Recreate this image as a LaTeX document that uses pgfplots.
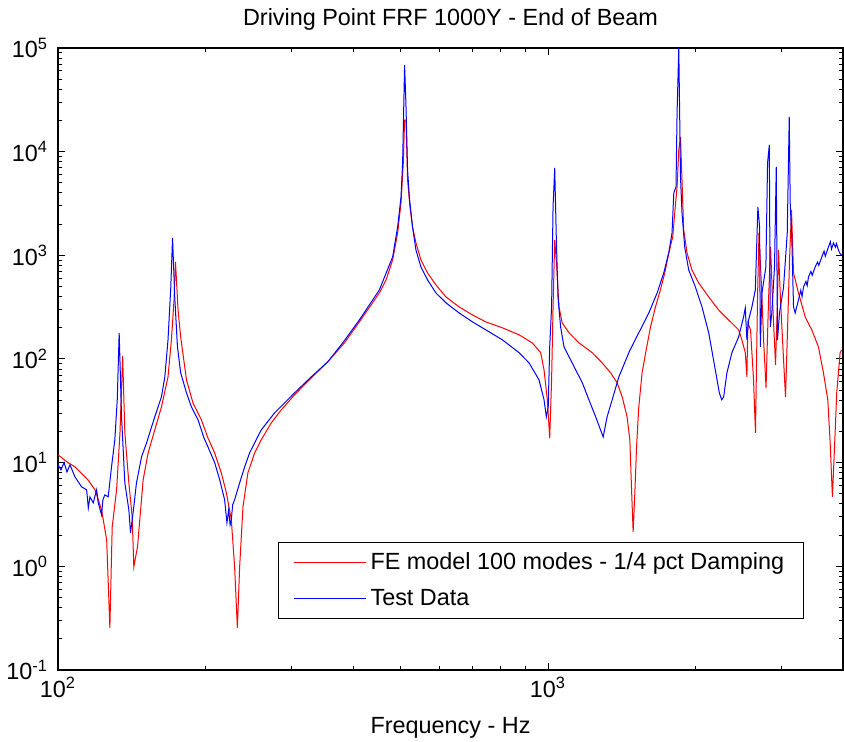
\documentclass[border=0pt]{standalone}
\usepackage{fontspec}
\setmainfont{Liberation Sans}
\usepackage{pgfplots}
\pgfplotsset{compat=1.18}
\newcommand{\mf}{\fontsize{11.7pt}{14pt}\selectfont}
\begin{document}
\begin{tikzpicture}
\begin{loglogaxis}[
  name=ax, at={(0,0)}, anchor=south west,
  scale only axis, width=392.5pt, height=311pt,
  xmin=100, xmax=4000, ymin=0.1, ymax=100000,
  xtick={100,1000}, xticklabels={10\textsuperscript{2},10\textsuperscript{3}},
  ytick={0.1,1,10,100,1000,10000,100000},
  yticklabels={10\textsuperscript{-1},10\textsuperscript{0},10\textsuperscript{1},10\textsuperscript{2},10\textsuperscript{3},10\textsuperscript{4},10\textsuperscript{5}},
  minor xtick={200,300,400,500,600,700,800,900,2000,3000},
  minor ytick={0.2,0.3,0.4,0.5,0.6,0.7,0.8,0.9,2,3,4,5,6,7,8,9,20,30,40,50,60,70,80,90,200,300,400,500,600,700,800,900,2000,3000,4000,5000,6000,7000,8000,9000,20000,30000,40000,50000,60000,70000,80000,90000},
  tick align=inside, major tick length=3.5pt, minor tick length=2pt,
  axis line style={line width=0.8pt},
  every tick/.style={black, line width=0.5pt},
  tick label style={font=\mf},
  yticklabel style={xshift=-1.5pt},
  every axis title shift=0pt,
  title={Driving Point FRF 1000Y - End of Beam},
  title style={font=\mf, at={(axis description cs:0.5,1.0466)}, anchor=center},
  xlabel={Frequency - Hz},
  xlabel style={font=\mf, at={(axis description cs:0.5,-0.0932)}, anchor=center},
  legend style={at={(axis description cs:0.950,0.082)}, anchor=south east, font=\mf,
    draw=black, line width=0.6pt, inner xsep=7.5pt, inner ysep=3pt, row sep=4.5pt,
    nodes={inner xsep=2pt}},
  legend cell align=left,
  legend image code/.code={\draw[#1] (0pt,0pt) -- (36pt,0pt);},
]
\addplot[red, line width=0.5pt] coordinates {
(100,11.9)(104.8,10.0)(108.3,9.12)(115.1,6.83)(119.0,5.47)(122.7,3.51)(125.7,1.80)(127.6,0.255)(129.0,2.40)(131.7,5.47)(133.8,19.4)(135.5,107)(136.9,19.4)(139.5,6.38)(141.7,3.00)(142.8,0.99)(145.3,1.54)(149.2,6.83)(152.7,12.4)(157.6,20.7)(162.6,34.5)(167.7,67.2)(170.4,153)(172.5,372)(173.7,863)(175.8,297)(178.0,163)(182.9,62.9)(188.6,37.7)(196.2,25.9)(202.3,17.3)(208.8,12.4)(215.4,7.98)(220.6,5.12)(225.8,2.81)(229.3,0.99)(232.3,0.255)(234.8,0.99)(238.5,3.75)(244.1,7.98)(251.9,12.4)(259.9,16.6)(272.4,24.2)(285.5,32.3)(303.9,45.1)(328.7,65.8)(355.2,93.8)(384.2,143)(412.1,228)(452.7,434)(467.2,579)(481.9,903)(493.3,1644)(501.2,3200)(506.6,7780)(509.7,20200)(513.1,20200)(516.9,5330)(522.7,2930)(529.1,1879)(537.6,1318)(550.4,903)(567.8,676)(590.6,519)(619.0,397)(658.8,318)(701.3,266)(746.7,228)(807.0,200)(873.1,171)(928.9,143)(966.2,115)(981.5,78.5)(996.8,40.4)(1008,17.3)(1017,62.9)(1024,318)(1032,1408)(1042,773)(1053,318)(1069,223)(1104,179)(1157,143)(1231,115)(1290,91.7)(1342,73.5)(1384,58.9)(1417,43.2)(1450,27.7)(1469,16.6)(1481,5.47)(1492,2.15)(1504,5.12)(1516,14.2)(1532,34.5)(1556,73.5)(1586,122)(1619,204)(1657,318)(1696,464)(1731,676)(1764,1055)(1797,1504)(1814,2564)(1834,4570)(1849,10380)(1864,13870)(1877,5330)(1892,1758)(1922,1055)(1967,723)(2030,542)(2128,397)(2230,297)(2337,238)(2449,191)(2487,153)(2527,115)(2546,67.2)(2558,223)(2590,191)(2627,62.9)(2651,19.4)(2676,372)(2695,1644)(2729,464)(2754,153)(2786,52.6)(2819,372)(2846,1205)(2872,372)(2913,87.7)(2940,372)(2954,1127)(2982,372)(3025,98)(3053,43.2)(3082,191)(3111,903)(3140,2740)(3170,676)(3245,434)(3348,255)(3454,191)(3564,131)(3649,73.5)(3724,40.4)(3766,15.5)(3806,4.68)(3842,13.3)(3884,47.1)(3946,115)(3971,122)
};
\addlegendentry{FE model 100 modes - 1/4 pct Damping}
\addplot[blue, line width=0.5pt] coordinates {
(100,9.53)(101.4,8.53)(102.9,10.0)(104.3,8.15)(105.8,9.53)(108.3,7.29)(111.7,5.85)(114.4,5.47)(115.3,3.66)(116.2,4.68)(118.0,4.10)(119.9,5.47)(120.8,4.10)(122.7,3.14)(123.5,4.38)(124.6,4.89)(126.6,4.68)(128.6,9.12)(130.6,16.6)(132.1,40.4)(133.3,179)(134.8,27.7)(136.9,6.38)(139.5,3.51)(140.6,2.10)(142.3,3.28)(144.6,6.38)(148.1,11.4)(151.6,15.5)(155.2,22.1)(157.6,27.7)(162.6,43.2)(165.2,67.2)(167.7,153)(169.9,495)(171.3,1472)(173.1,397)(175.3,131)(178.0,73.5)(182.9,47.1)(187.2,34.5)(193.1,25.9)(198.6,17.3)(202.3,14.2)(208.8,10.0)(213.8,6.83)(218.8,4.38)(221.2,2.63)(223.0,3.51)(224.5,2.51)(225.8,2.81)(227.2,3.92)(229.3,4.38)(234.8,6.38)(240.4,9.12)(246.0,12.4)(251.9,15.5)(259.9,20.7)(276.7,30.2)(290.0,37.7)(303.9,47.1)(328.7,67.2)(355.2,93.8)(381.2,143)(412.1,238)(452.7,464)(481.9,966)(493.3,1879)(501.2,3660)(505.0,7780)(509.7,68500)(513.1,27000)(516.9,6660)(521.2,3660)(529.1,1879)(537.6,1127)(550.4,773)(567.8,579)(590.6,434)(619.0,348)(658.8,278)(701.3,228)(746.7,191)(807.0,153)(873.1,115)(914.8,91.7)(958.7,62.9)(981.5,40.4)(992.2,27.7)(1001,34.5)(1008,131)(1017,318)(1024,2930)(1032,6960)(1040,1408)(1048,397)(1061,204)(1078,131)(1104,105)(1139,78.5)(1175,58.9)(1212,40.4)(1251,27.7)(1280,20.7)(1296,17.7)(1320,27.7)(1352,40.4)(1395,67.2)(1462,115)(1532,179)(1606,278)(1670,434)(1723,676)(1764,1055)(1791,1644)(1806,4000)(1825,4570)(1834,23600)(1849,100000)(1864,5700)(1877,2564)(1901,1205)(1937,723)(1999,495)(2062,318)(2128,179)(2195,78.5)(2237,47.1)(2262,40.4)(2283,43.2)(2318,73.5)(2373,115)(2449,163)(2507,255)(2527,311)(2546,153)(2567,238)(2607,318)(2649,464)(2681,2930)(2703,1879)(2712,131)(2733,434)(2784,773)(2806,7780)(2829,11600)(2842,204)(2863,278)(2899,773)(2923,7120)(2940,153)(2968,278)(3025,495)(3078,1644)(3107,21600)(3121,3200)(3145,1408)(3170,318)(3195,278)(3245,372)(3280,460)(3300,400)(3322,495)(3360,560)(3380,510)(3401,619)(3440,700)(3460,640)(3510,773)(3550,860)(3570,800)(3621,966)(3660,1100)(3680,980)(3736,1205)(3770,1350)(3790,1150)(3824,1318)(3860,1200)(3880,1300)(3914,1127)(3940,1050)(3971,1009)
};
\addlegendentry{Test Data}
\end{loglogaxis}
\pgfresetboundingbox
\path (-29pt,-36pt) rectangle (393pt,335pt);
\end{tikzpicture}
\end{document}
